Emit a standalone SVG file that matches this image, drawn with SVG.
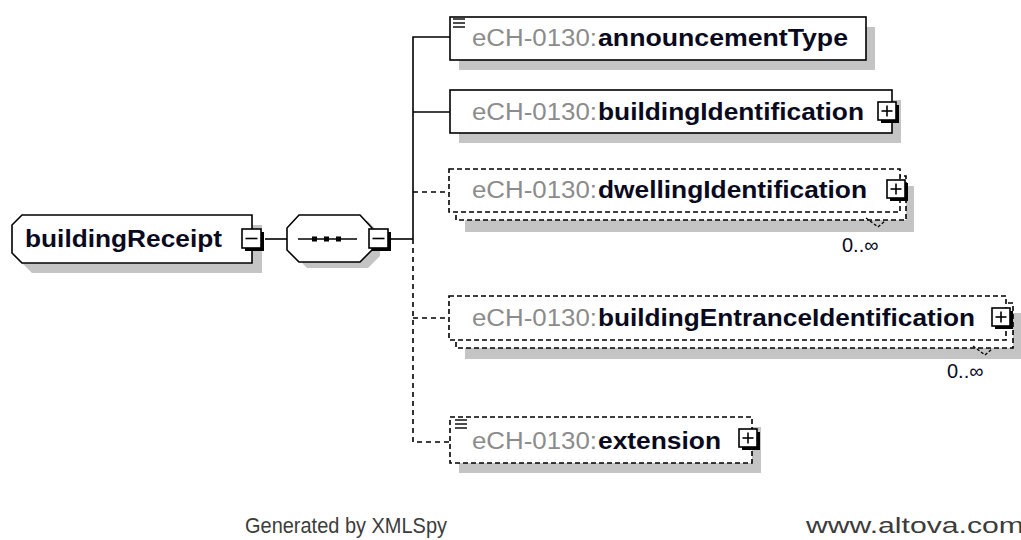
<svg xmlns="http://www.w3.org/2000/svg" width="1021" height="540" viewBox="0 0 1021 540">
<style>
.bg{fill:#fff}
.box{fill:#fff;stroke:#000;stroke-width:1.6}
.dbox{fill:#fff;stroke:#000;stroke-width:1.6;stroke-dasharray:5,3}
.sh{fill:#c4c4c4}
.pre{font-family:"Liberation Sans",Arial,sans-serif;font-size:23px;fill:#8c8c8c}
.nm{font-family:"Liberation Sans",Arial,sans-serif;font-size:23px;font-weight:bold;fill:#0a0a1e}
.occ{font-family:"Liberation Sans",Arial,sans-serif;font-size:20px;fill:#0a0a1e}
.foot{font-family:"Liberation Sans",Arial,sans-serif;font-size:22px;fill:#3c3c3c}
.conn{stroke:#000;stroke-width:1.6;fill:none}
.dconn{stroke:#000;stroke-width:1.6;fill:none;stroke-dasharray:5,4}
.ic{stroke:#000;stroke-width:1.4}
</style>
<defs>
<g id="plus">
<rect x="3" y="3" width="18" height="18" fill="#000"/>
<rect x="0" y="0" width="18" height="18" fill="#fff" stroke="#000" stroke-width="1.6"/>
<line x1="3.5" y1="9" x2="14.5" y2="9" stroke="#000" stroke-width="1.6"/>
<line x1="9" y1="3.5" x2="9" y2="14.5" stroke="#000" stroke-width="1.6"/>
</g>
<g id="minus">
<rect x="3" y="3" width="19" height="19" fill="#000"/>
<rect x="0" y="0" width="19" height="19" fill="#fff" stroke="#000" stroke-width="1.6"/>
<line x1="3.5" y1="9.5" x2="15.5" y2="9.5" stroke="#000" stroke-width="1.6"/>
</g>
<g id="icon">
<line x1="0" y1="0" x2="12" y2="0" class="ic"/>
<line x1="0" y1="4" x2="12" y2="4" class="ic"/>
<line x1="0" y1="8" x2="12" y2="8" class="ic"/>
</g>
</defs>
<rect class="bg" x="0" y="0" width="1021" height="540"/>

<g id="connectors">
<line class="conn" x1="265" y1="239" x2="287" y2="239"/>
<line class="conn" x1="391" y1="239" x2="413" y2="239"/>
<polyline class="conn" points="450,37 413,37 413,239"/>
<line class="conn" x1="413" y1="112" x2="450" y2="112"/>
<polyline class="dconn" points="413,239 413,442 450,442"/>
<line class="dconn" x1="413" y1="192" x2="449" y2="192"/>
<line class="dconn" x1="413" y1="318" x2="449" y2="318"/>
</g>

<g id="buildingReceipt">
<polygon class="sh" points="22,225 262,225 262,273 32,273 22,263"/>
<polygon class="box" points="22,215 252,215 252,263 22,263 12,253 12,225"/>
<text class="nm" x="25" y="247" textLength="197" lengthAdjust="spacingAndGlyphs">buildingReceipt</text>
<use href="#minus" x="242" y="229"/>
</g>

<g id="sequence">
<polygon class="sh" points="307,221 368,221 380,234 380,256 368,268 307,268 295,256 295,234"/>
<polygon class="box" points="299,215 360,215 372,228 372,250 360,262 299,262 287,250 287,228"/>
<line class="conn" x1="298" y1="239" x2="357" y2="239"/>
<rect x="312" y="236.5" width="5" height="5" fill="#000"/>
<rect x="324" y="236.5" width="5" height="5" fill="#000"/>
<rect x="336" y="236.5" width="5" height="5" fill="#000"/>
<use href="#minus" x="369" y="229"/>
</g>

<g id="announcementType">
<rect class="sh" x="459" y="27" width="416" height="43"/>
<rect class="box" x="450" y="17" width="416" height="43"/>
<use href="#icon" x="453" y="19"/>
<text class="pre" x="472" y="46" textLength="125" lengthAdjust="spacingAndGlyphs">eCH-0130:</text>
<text class="nm" x="598" y="46" textLength="250" lengthAdjust="spacingAndGlyphs">announcementType</text>
</g>

<g id="buildingIdentification">
<rect class="sh" x="459" y="100" width="442" height="43"/>
<rect class="box" x="450" y="90" width="442" height="43"/>
<text class="pre" x="472" y="120" textLength="125" lengthAdjust="spacingAndGlyphs">eCH-0130:</text>
<text class="nm" x="598" y="120" textLength="266" lengthAdjust="spacingAndGlyphs">buildingIdentification</text>
<use href="#plus" x="878" y="102"/>
</g>

<g id="dwellingIdentification">
<rect class="sh" x="465" y="186" width="449" height="46"/>
<rect class="dbox" x="456" y="176" width="450" height="44"/>
<rect class="dbox" x="449" y="169" width="451" height="43"/>
<text class="pre" x="472" y="198" textLength="125" lengthAdjust="spacingAndGlyphs">eCH-0130:</text>
<text class="nm" x="598" y="198" textLength="269" lengthAdjust="spacingAndGlyphs">dwellingIdentification</text>
<use href="#plus" x="887" y="180"/>
<polyline points="866,218 878,227 885,221" fill="none" stroke="#000" stroke-width="1.3" stroke-dasharray="3,2"/>
<text class="occ" x="842" y="252">0..∞</text>
</g>

<g id="buildingEntranceIdentification">
<rect class="sh" x="465" y="313" width="556" height="46"/>
<rect class="dbox" x="456" y="303" width="557" height="45"/>
<rect class="dbox" x="449" y="296" width="557" height="44"/>
<text class="pre" x="472" y="326" textLength="125" lengthAdjust="spacingAndGlyphs">eCH-0130:</text>
<text class="nm" x="598" y="326" textLength="377" lengthAdjust="spacingAndGlyphs">buildingEntranceIdentification</text>
<use href="#plus" x="992" y="308"/>
<polyline points="973,346 985,355 992,349" fill="none" stroke="#000" stroke-width="1.3" stroke-dasharray="3,2"/>
<text class="occ" x="947" y="378">0..∞</text>
</g>

<g id="extension">
<rect class="sh" x="459" y="427" width="302" height="46"/>
<rect class="dbox" x="450" y="417" width="302" height="46"/>
<use href="#icon" x="455" y="420"/>
<text class="pre" x="472" y="449" textLength="125" lengthAdjust="spacingAndGlyphs">eCH-0130:</text>
<text class="nm" x="598" y="449" textLength="123" lengthAdjust="spacingAndGlyphs">extension</text>
<use href="#plus" x="739" y="429"/>
</g>

<text class="foot" x="245" y="533" textLength="202" lengthAdjust="spacingAndGlyphs">Generated by XMLSpy</text>
<text class="foot" x="806" y="533" textLength="218" lengthAdjust="spacingAndGlyphs">www.altova.com</text>
</svg>
